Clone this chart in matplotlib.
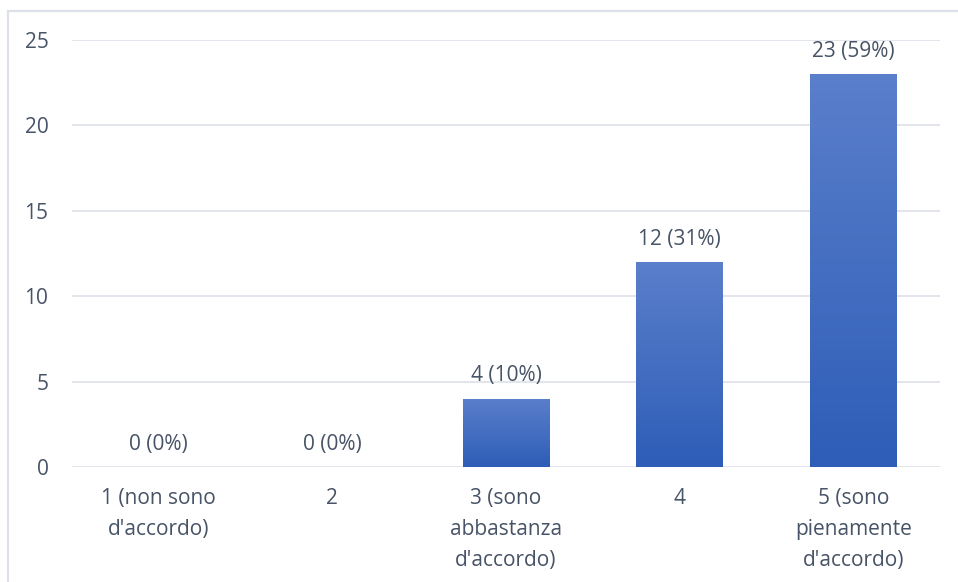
import matplotlib
matplotlib.use("Agg")
import matplotlib.pyplot as plt
import numpy as np
from matplotlib.colors import LinearSegmentedColormap
from matplotlib.patches import Rectangle

categories = ["1 (non sono\nd'accordo)", "2", "3 (sono\nabbastanza\nd'accordo)", "4",
              "5 (sono\npienamente\nd'accordo)"]
counts = [0, 0, 4, 12, 23]
percents = [0, 0, 10, 31, 59]
y_ticks = [0, 5, 10, 15, 20, 25]

text_color = "#475366"
grid_color = "#dfe3ea"
plt.rcParams["font.family"] = ["Open Sans", "DejaVu Sans"]
fs = 15

fig = plt.figure(figsize=(9.58, 5.82), dpi=100)
W, H = 958, 582
ax = fig.add_axes([72 / W, 115 / H, 868 / W, 427 / H])

x = np.arange(len(categories))
bars = ax.bar(x, counts, width=0.5, color="#4470c4", edgecolor="none", zorder=2)

# vertical gradient fill on each bar: lighter at the top, darker at the base
cmap = LinearSegmentedColormap.from_list("bar_grad", ["#2e5db7", "#5a7fcb"])
grad = np.linspace(0, 1, 256).reshape(-1, 1)
for b in bars:
    h = b.get_height()
    if h <= 0:
        continue
    x0 = b.get_x()
    im = ax.imshow(grad, cmap=cmap, origin="lower", aspect="auto",
                   extent=(x0, x0 + b.get_width(), 0, h), zorder=3)
    im.set_clip_path(b)

for xi, c, p in zip(x, counts, percents):
    ax.annotate(f"{c} ({p}%)", (xi, c), xytext=(0, 16.5), textcoords="offset points",
                ha="center", va="center", fontsize=fs, color=text_color)

ax.set_xlim(-0.5, len(categories) - 0.5)
ax.set_ylim(0, 25)
ax.set_yticks(y_ticks)
ax.set_xticks(x)
ax.set_xticklabels(categories, fontsize=fs, color=text_color, linespacing=1.62, va="top")
ax.tick_params(axis="y", length=0, pad=17, labelsize=fs, labelcolor=text_color)
ax.tick_params(axis="x", length=0, pad=15)
ax.grid(axis="y", color=grid_color, linewidth=1.3, zorder=0)
ax.set_axisbelow(True)
for s in ax.spines.values():
    s.set_visible(False)

# outer frame of the chart area
fig.patches.append(Rectangle((7.5 / W, -0.05), 1.1, (H - 10.5) / H + 0.05,
                             transform=fig.transFigure, fill=False,
                             edgecolor="#dde2ea", linewidth=1.6, zorder=0))

fig.savefig("out.png", dpi=100, facecolor="white")
